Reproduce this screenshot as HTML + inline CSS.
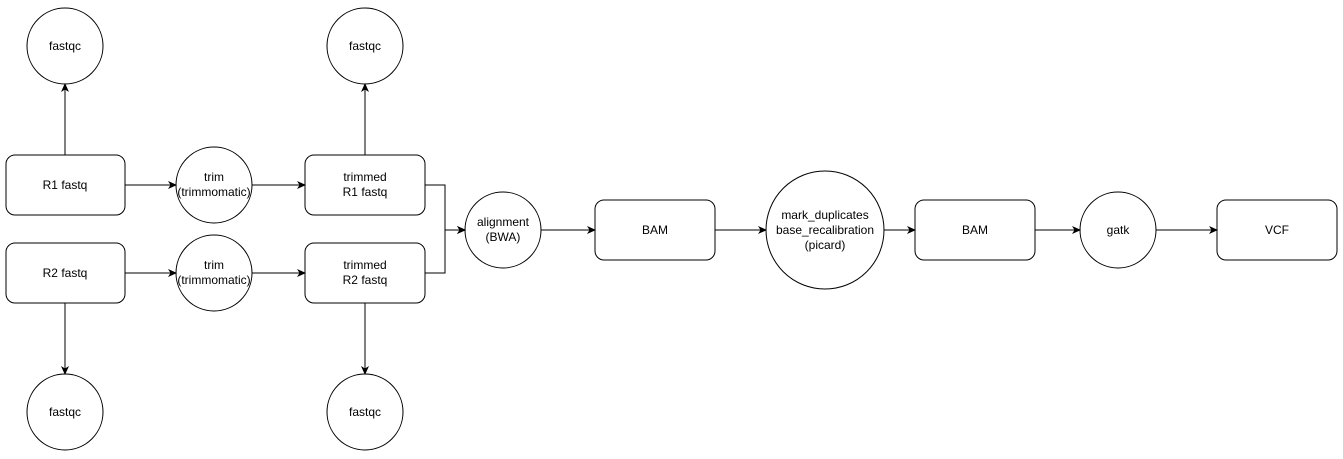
<!DOCTYPE html>
<html><head><meta charset="utf-8"><style>
html,body{margin:0;padding:0;background:#fff;}
svg{display:block;}
text{font-family:"Liberation Sans",Arial,sans-serif;font-size:12px;fill:#000;text-anchor:middle;}
</style></head><body>
<svg width="1343" height="459" viewBox="0 0 1343 459" xmlns="http://www.w3.org/2000/svg">
<defs><marker id="a" markerWidth="10" markerHeight="10" refX="8" refY="5" orient="auto" markerUnits="userSpaceOnUse"><path d="M0,1 L9,5 L0,9 L2.5,5 Z" fill="#000"/></marker></defs>
<g fill="#fff" stroke="#000" stroke-width="1">
<circle cx="65" cy="46" r="38"/>
<circle cx="365" cy="46" r="38"/>
<circle cx="65" cy="412" r="38"/>
<circle cx="365" cy="412" r="38"/>
<rect x="6" y="155" width="119" height="60" rx="9"/>
<rect x="6" y="243" width="119" height="60" rx="9"/>
<circle cx="214" cy="185" r="38"/>
<circle cx="214" cy="273" r="38"/>
<rect x="305" y="155" width="120" height="60" rx="9"/>
<rect x="305" y="243" width="120" height="60" rx="9"/>
<circle cx="503" cy="230" r="38"/>
<rect x="595" y="200" width="120" height="60" rx="9"/>
<circle cx="825" cy="230" r="59"/>
<rect x="915" y="200" width="120" height="60" rx="9"/>
<circle cx="1118" cy="230" r="38"/>
<rect x="1217" y="200" width="120" height="60" rx="9"/>
</g>
<g fill="none" stroke="#000" stroke-width="1" marker-end="url(#a)">
<path d="M65,155 V84"/>
<path d="M365,155 V84"/>
<path d="M65,303 V374"/>
<path d="M365,303 V374"/>
<path d="M125,185 H176"/>
<path d="M252,185 H305"/>
<path d="M125,273 H176"/>
<path d="M252,273 H305"/>
<path d="M425,185 H445 V230 H465"/>
<path d="M425,273 H445 V230 H465"/>
<path d="M541,230 H595"/>
<path d="M715,230 H766"/>
<path d="M884,230 H915"/>
<path d="M1035,230 H1080"/>
<path d="M1156,230 H1217"/>
</g>
<text x="65" y="50">fastqc</text>
<text x="365" y="50">fastqc</text>
<text x="65" y="416">fastqc</text>
<text x="365" y="416">fastqc</text>
<text x="65" y="189">R1 fastq</text>
<text x="65" y="277">R2 fastq</text>
<text x="214" y="181">trim</text><text x="214" y="196">(trimmomatic)</text>
<text x="214" y="269">trim</text><text x="214" y="284">(trimmomatic)</text>
<text x="365" y="181">trimmed</text><text x="365" y="196">R1 fastq</text>
<text x="365" y="269">trimmed</text><text x="365" y="284">R2 fastq</text>
<text x="503" y="226">alignment</text><text x="503" y="241">(BWA)</text>
<text x="655" y="234">BAM</text>
<text x="825" y="219">mark_duplicates</text><text x="825" y="234">base_recalibration</text><text x="825" y="249">(picard)</text>
<text x="975" y="234">BAM</text>
<text x="1118" y="234">gatk</text>
<text x="1277" y="234">VCF</text>
</svg>
</body></html>
